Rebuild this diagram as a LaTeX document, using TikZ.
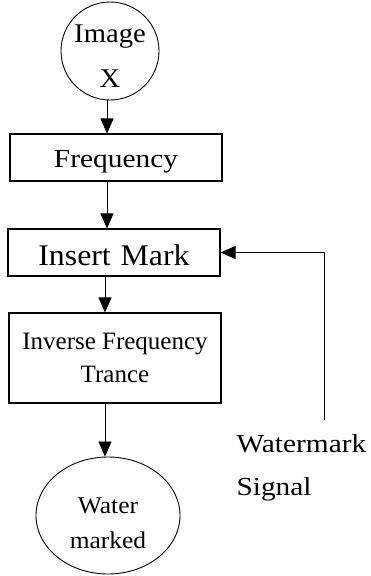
\documentclass[tikz,border=0pt]{standalone}
\usepackage{fontspec}
\setmainfont{Liberation Serif}
\newfontfamily\serifwide[FakeStretch=1.13]{Liberation Serif}
\newfontfamily\serifmid[FakeStretch=1.06]{Liberation Serif}
\usetikzlibrary{arrows.meta,shapes.geometric}
\begin{document}
\begin{tikzpicture}[x=1pt,y=-1pt,
  box/.style={draw, line width=1.1pt, inner sep=0pt, minimum width=212pt},
  term/.style={draw, line width=0.9pt, inner sep=0pt},
  flow/.style={line width=0.8pt, -{Triangle[length=15pt,width=13pt]}}]
\useasboundingbox (0,0) rectangle (370,576);

% start terminal
\node[term, circle, minimum size=98pt] (img) at (110,51) {};
\node[font=\serifmid\fontsize{27}{45}\selectfont, align=center] (imgtext) at (110,56) {Image\\X};

% processing steps
\node[box, minimum height=47pt, text height=19pt, text depth=0pt,
      font=\serifwide\fontsize{26}{30}\selectfont] (freq) at (116,157.5) {Frequency};
\node[box, minimum height=47pt, text height=25pt, text depth=0pt,
      font=\serifmid\fontsize{30}{34}\selectfont] (ins) at (114,252.5) {Insert\hspace{0.33em}Mark};
\node[box, minimum height=90pt, align=center,
      font=\fontsize{25}{33}\selectfont] (inv) at (115,358) {Inverse Frequency\\Trance};

% output terminal
\node[term, ellipse, minimum width=144pt, minimum height=117pt] (out) at (108,515.5) {};
\node[font=\serifmid\fontsize{24}{35}\selectfont, align=center] (outtext) at (108,523) {Water\\marked};

% watermark input (base anchor sits on the last line)
\node[anchor=base west, font=\serifwide\fontsize{26}{43}\selectfont, align=left] (sig) at (233,495) {Watermark\\Signal};
\coordinate (src) at (324,420);

% connectors
\coordinate (a1) at (107,0);
\coordinate (a2) at (105,0);
\draw[flow] (img.south -| a1) -- (freq.north -| a1);
\draw[flow] (freq.south -| a1) -- (ins.north -| a1);
\draw[flow] (ins.south -| a2) -- (inv.north -| a2);
\draw[flow] (inv.south -| a2) -- (out.north -| a2);
\draw[flow] (src) |- (ins.east);
\end{tikzpicture}
\end{document}
